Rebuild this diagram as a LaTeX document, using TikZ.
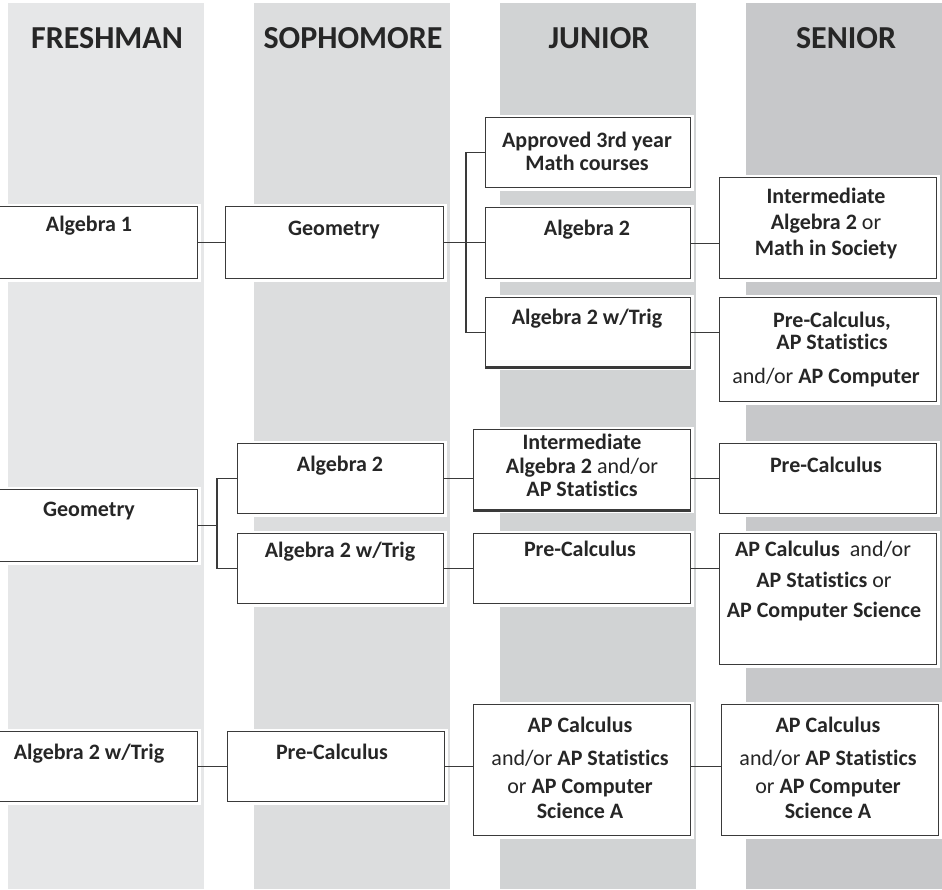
\documentclass[tikz,border=0pt]{standalone}
\usepackage{fontspec}
\setmainfont{Carlito}[Ligatures=NoCommon]
\definecolor{bandA}{HTML}{E6E7E8}
\definecolor{bandB}{HTML}{DCDDDE}
\definecolor{bandC}{HTML}{D1D3D4}
\definecolor{bandD}{HTML}{C7C8CA}
\definecolor{boxline}{HTML}{3A3A3A}
\definecolor{txt}{HTML}{262626}
\begin{document}
\begin{tikzpicture}[x=1pt,y=-1pt,
  band/.style={fill=#1, draw=none},
  box/.style={draw=boxline, line width=1.4pt, fill=white, anchor=north west,
              preaction={draw=white, line width=6pt}},
  hdr/.style={font=\fontsize{32}{36}\selectfont\bfseries, text=txt, anchor=base, inner sep=0pt},
  lbl/.style={font=\fontsize{22}{26}\selectfont\bfseries, text=txt, anchor=base, inner sep=0pt},
  conn/.style={draw=boxline, line width=1.3pt},
  shadowline/.style={draw=boxline, line width=2.6pt}]
\useasboundingbox (0,0) rectangle (942,889);
\clip (0,0) rectangle (942,889);
\fill[white] (0,0) rectangle (942,889);
% bands
\path[band=bandA] (8,3) rectangle (204,889);
\path[band=bandB] (254,3) rectangle (450,889);
\path[band=bandC] (500,3) rectangle (696,889);
\path[band=bandD] (746,3) rectangle (942,889);
% headers
\node[hdr] (h1) at (107,48) {FRESHMAN};
\node[hdr] (h2) at (353,48) {SOPHOMORE};
\node[hdr] (h3) at (599,48) {JUNIOR};
\node[hdr] (h4) at (846,48) {SENIOR};
% ---------- row 1 ----------
\node[box, minimum width=217pt, minimum height=72pt] (alg1) at (-20,206) {};
\node[box, minimum width=218pt, minimum height=72pt] (sgeom) at (225,206) {};
\node[box, minimum width=205pt, minimum height=70pt] (appr) at (485,117) {};
\node[box, minimum width=205pt, minimum height=71pt] (jalg2) at (485,207) {};
\node[box, minimum width=205pt, minimum height=69pt] (jtrig) at (485,297) {};
\draw[shadowline] ([yshift=-0.7pt]jtrig.south west) -- ([yshift=-0.7pt]jtrig.south east);
\node[box, minimum width=217pt, minimum height=101pt] (sint) at (719,177) {};
\node[box, minimum width=217pt, minimum height=104pt] (spre) at (719,297) {};
% ---------- row 2 ----------
\node[box, minimum width=217pt, minimum height=72pt] (fgeom) at (-20,489) {};
\node[box, minimum width=206pt, minimum height=70pt] (salg2) at (237,443) {};
\node[box, minimum width=206pt, minimum height=70pt] (strig) at (237,533) {};
\node[box, minimum width=217pt, minimum height=80pt] (jint) at (473,429) {};
\draw[shadowline] ([yshift=-0.7pt]jint.south west) -- ([yshift=-0.7pt]jint.south east);
\node[box, minimum width=217pt, minimum height=70pt] (jpre) at (473,533) {};
\node[box, minimum width=217pt, minimum height=70pt] (spre2) at (719,443) {};
\node[box, minimum width=217pt, minimum height=131pt] (sap) at (719,533) {};
% ---------- row 3 ----------
\node[box, minimum width=217pt, minimum height=70pt] (ftrig) at (-20,731) {};
\node[box, minimum width=217pt, minimum height=70pt] (spre3) at (227,731) {};
\node[box, minimum width=217pt, minimum height=131pt] (jap) at (473,704) {};
\node[box, minimum width=217pt, minimum height=131pt] (sap3) at (721,704) {};
% ---------- connectors ----------
\coordinate (b1) at (466,243);
\coordinate (b2) at (217,523);
\draw[conn] (alg1.east) -- (sgeom.west);
\draw[conn] (sgeom.east) -- (sgeom.east -| jalg2.west);
\draw[conn] (appr.west) -- (appr.west -| b1) -- (jtrig.west -| b1) -- (jtrig.west);
\draw[conn] (jalg2.east) -- (jalg2.east -| sint.west);
\draw[conn] (jtrig.east) -- (jtrig.east -| spre.west);
\draw[conn] (fgeom.east) -- (fgeom.east -| b2);
\draw[conn] (salg2.west) -- (salg2.west -| b2) -- (strig.west -| b2) -- (strig.west);
\draw[conn] (salg2.east) -- (salg2.east -| jint.west);
\draw[conn] (jint.east |- salg2.east) -- (spre2.west);
\draw[conn] (strig.east) -- (jpre.west);
\draw[conn] (jpre.east) -- (jpre.east -| sap.west);
\draw[conn] (ftrig.east) -- (spre3.west);
\draw[conn] (spre3.east) -- (spre3.east -| jap.west);
\draw[conn] (jap.east |- spre3.east) -- (sap3.west |- spre3.east);
% ---------- texts ----------
\node[lbl] (t1) at (89,231) {Algebra 1};
\node[lbl] (t2) at (334,235) {Geometry};
\node[lbl] (t3) at (587,147) {Approved 3rd year};
\node[lbl] (t4) at (587,170) {Math courses};
\node[lbl] (t5) at (587,235) {Algebra 2};
\node[lbl] (t6) at (587,324) {Algebra 2 w/Trig};
\node[lbl] (t7) at (826,203) {Intermediate};
\node[lbl] (t8) at (826,229) {Algebra 2 {\mdseries or}};
\node[lbl] (t9) at (826,255) {Math in Society};
\node[lbl] (t10) at (832,327) {Pre-Calculus,};
\node[lbl] (t11) at (832,349) {AP Statistics};
\node[lbl] (t12) at (826,383) {{\mdseries and/or} AP Computer};
\node[lbl] (t13) at (89,516) {Geometry};
\node[lbl] (t14) at (340,471) {Algebra 2};
\node[lbl] (t15) at (340,557) {Algebra 2 w/Trig};
\node[lbl] (t16) at (582,449) {Intermediate};
\node[lbl] (t17) at (582,473) {Algebra 2 {\mdseries and/or}};
\node[lbl] (t18) at (582,496) {AP Statistics};
\node[lbl] (t19) at (580,556) {Pre-Calculus};
\node[lbl] (t20) at (826,472) {Pre-Calculus};
\node[lbl] (t21) at (823,556) {AP Calculus\ \ {\mdseries and/or}};
\node[lbl] (t22) at (824,587) {AP Statistics {\mdseries or}};
\node[lbl] (t23) at (824,617) {AP Computer Science};
\node[lbl] (t24) at (89,759) {Algebra 2 w/Trig};
\node[lbl] (t25) at (332,759) {Pre-Calculus};
\node[lbl] (t26) at (580,732) {AP Calculus};
\node[lbl] (t27) at (580,765) {{\mdseries and/or} AP Statistics};
\node[lbl] (t28) at (580,793) {{\mdseries or} AP Computer};
\node[lbl] (t29) at (580,818) {Science A};
\node[lbl] (t30) at (828,732) {AP Calculus};
\node[lbl] (t31) at (828,765) {{\mdseries and/or} AP Statistics};
\node[lbl] (t32) at (828,793) {{\mdseries or} AP Computer};
\node[lbl] (t33) at (828,818) {Science A};
\end{tikzpicture}
\end{document}
